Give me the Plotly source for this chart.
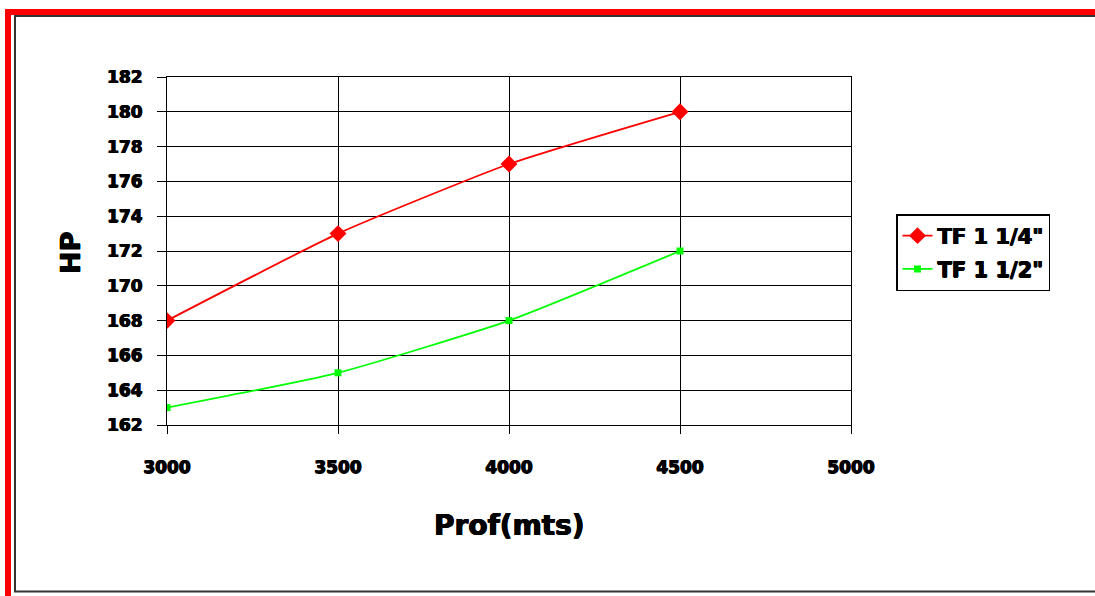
import plotly.graph_objects as go

depth = [3000, 3500, 4000, 4500]
hp_114 = [168, 173, 177, 180]
hp_112 = [163, 165, 168, 172]
series_names = ["TF 1 1/4\"", "TF 1 1/2\""]

W, H = 1095, 596
L, R, T, B = 167, 851, 77, 425

def px(x):
    return (x - L) / (R - L)

def py(y):
    return (B - y) / (B - T)

FONT = "DejaVu Sans, Arial, sans-serif"
HEAVY = "0.6px 0 0 #000, -0.6px 0 0 #000, 0 0.4px 0 #000"

def bold(size):
    return dict(family=FONT, size=size, color="#000", weight="bold", shadow=HEAVY)

fig = go.Figure()
fig.add_trace(go.Scatter(
    x=depth, y=hp_114, name=series_names[0], mode="lines+markers", legendgroup="a",
    line=dict(color="#ff0000", width=1.8, shape="spline", smoothing=0.5),
    marker=dict(symbol="diamond", size=13, color="#ff0000"),
))
fig.add_trace(go.Scatter(
    x=depth, y=hp_112, name=series_names[1], mode="lines+markers", legendgroup="b",
    line=dict(color="#00ff00", width=1.8, shape="spline", smoothing=0.5),
    marker=dict(symbol="square", size=7, color="#00ff00"),
))

shapes = [
    # inner black frame
    dict(type="rect", xref="paper", yref="paper", x0=px(15), x1=px(1110), y0=py(16), y1=py(591.5),
         line=dict(color="#333333", width=2), layer="below"),
    # outer red frame (top and left)
    dict(type="line", xref="paper", yref="paper", x0=px(5), x1=px(1110), y0=py(12), y1=py(12),
         line=dict(color="#ff0000", width=6)),
    dict(type="line", xref="paper", yref="paper", x0=px(8), x1=px(8), y0=py(9), y1=py(610),
         line=dict(color="#ff0000", width=6)),
]

annotations = [
    dict(text="Prof(mts)", x=px(509), y=py(525), xref="paper", yref="paper",
         showarrow=False, font=bold(28), xanchor="center", yanchor="middle"),
    dict(text="HP", x=px(70), y=py(253), xref="paper", yref="paper", textangle=-90,
         showarrow=False, font=bold(27), xanchor="center", yanchor="middle"),
]

fig.update_layout(
    width=W, height=H,
    margin=dict(l=L, r=W - R, t=T, b=H - B, pad=0),
    paper_bgcolor="white", plot_bgcolor="white",
    font=dict(family=FONT, color="#000"),
    showlegend=True,
    legend=dict(x=px(896), y=py(214), xanchor="left", yanchor="top",
                bordercolor="#000", borderwidth=1.5, bgcolor="white",
                font=bold(21), tracegroupgap=3, itemwidth=30),
    shapes=shapes,
    annotations=annotations,
    xaxis=dict(range=[3000, 5000], dtick=500, tick0=3000, showgrid=True, gridcolor="#000", gridwidth=1,
               showline=True, linecolor="#000", linewidth=1, mirror=True,
               ticks="outside", ticklen=8, tickcolor="#000",
               tickfont=bold(17), ticklabelstandoff=19, zeroline=False, fixedrange=True),
    yaxis=dict(range=[162, 182], dtick=2, tick0=162, showgrid=True, gridcolor="#000", gridwidth=1,
               showline=True, linecolor="#000", linewidth=1, mirror=True,
               ticks="outside", ticklen=9, tickcolor="#000",
               tickfont=bold(17), ticklabelstandoff=11, zeroline=False, fixedrange=True),
)

fig.write_html("out.html", config={"displayModeBar": False},
               post_script="document.body.style.margin='0';document.body.style.overflow='hidden';")
